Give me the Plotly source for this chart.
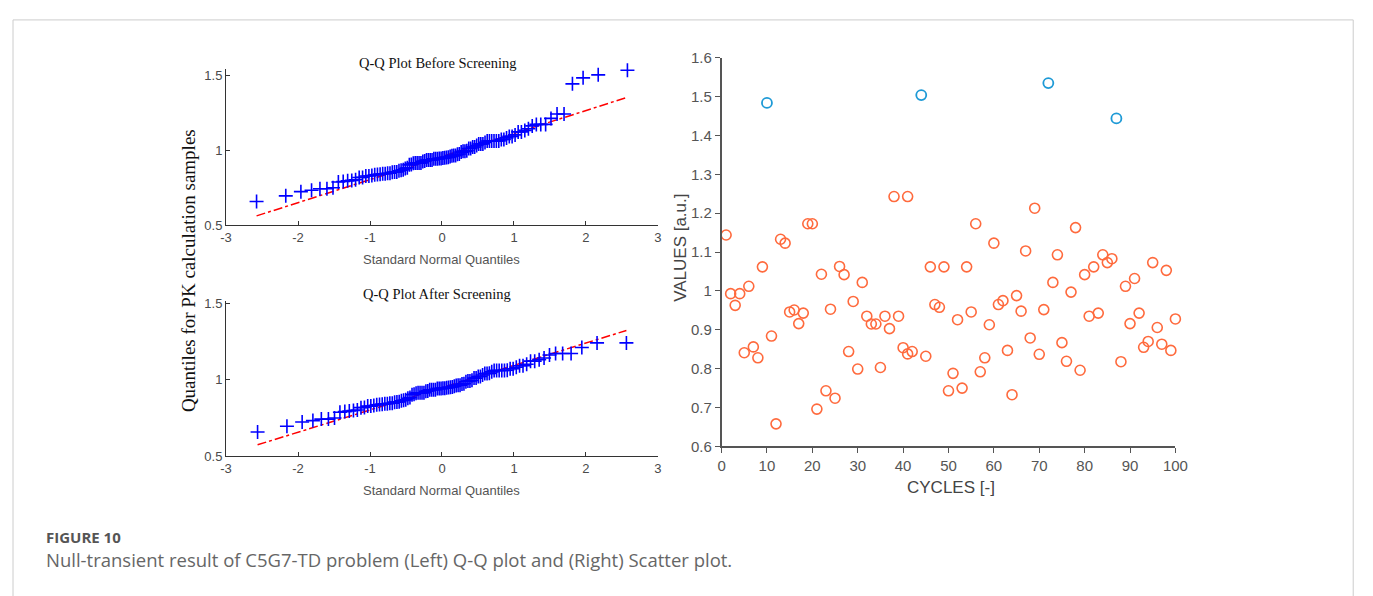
import numpy as np
import plotly.graph_objects as go
from statistics import NormalDist

# the page keeps the browser's default 8px body margin: figure pixel = page pixel - 8
OFF = 8
W, H = 1373, 596

# ---- data (cycles vs values) ----
cycles_normal = [1, 2, 3, 4, 5, 6, 7, 8, 9,
                 11, 12, 13, 14, 15, 16, 17, 18, 19, 20,
                 21, 22, 23, 24, 25, 26, 27, 28, 29, 30,
                 31, 32, 33, 34, 35, 36, 37, 38, 39, 40,
                 41, 41, 42, 45, 46, 47, 48, 49, 50,
                 51, 52, 53, 54, 55, 56, 57, 58, 59, 60,
                 61, 62, 63, 64, 65, 66, 67, 68, 69, 70,
                 71, 73, 74, 75, 76, 77, 78, 79, 80,
                 81, 82, 83, 84, 85, 86, 88, 89, 90,
                 91, 92, 93, 94, 95, 96, 97, 98, 99, 100]
values_normal = [1.144, 0.993, 0.963, 0.993, 0.841, 1.012, 0.856, 0.828, 1.062,
                 0.884, 0.658, 1.133, 1.123, 0.946, 0.951, 0.916, 0.943, 1.173, 1.173,
                 0.696, 1.043, 0.743, 0.953, 0.724, 1.063, 1.042, 0.844, 0.973, 0.799,
                 1.022, 0.935, 0.915, 0.915, 0.803, 0.935, 0.903, 1.243, 0.935, 0.854,
                 1.243, 0.838, 0.844, 0.832, 1.062, 0.965, 0.958, 1.062, 0.743,
                 0.788, 0.926, 0.750, 1.062, 0.946, 1.173, 0.792, 0.828, 0.913, 1.123,
                 0.965, 0.975, 0.847, 0.733, 0.988, 0.948, 1.103, 0.879, 1.213, 0.837,
                 0.952, 1.022, 1.093, 0.867, 0.819, 0.997, 1.163, 0.796, 1.042,
                 0.935, 1.062, 0.943, 1.093, 1.073, 1.083, 0.818, 1.012, 0.916,
                 1.032, 0.943, 0.855, 0.870, 1.073, 0.906, 0.863, 1.053, 0.847, 0.928]
cycles_outlier = [10, 44, 72, 87]
values_outlier = [1.484, 1.504, 1.535, 1.444]

qq_xticks = [-3, -2, -1, 0, 1, 2, 3]
qq_xticktext = ["-3", "-2", "-1", "0", "1", "2", "3"]
qq_yticks = [0.5, 1, 1.5]
qq_yticktext = ["0.5", "1", "1.5"]
sc_xticks = [0, 10, 20, 30, 40, 50, 60, 70, 80, 90, 100]
sc_yticks = [0.6, 0.7, 0.8, 0.9, 1.0, 1.1, 1.2, 1.3, 1.4, 1.5, 1.6]
sc_yticktext = ["0.6", "0.7", "0.8", "0.9", "1", "1.1", "1.2", "1.3", "1.4", "1.5", "1.6"]

title_before = "Q-Q Plot Before Screening"
title_after = "Q-Q Plot After Screening"
qq_xlabel = "Standard Normal Quantiles"
qq_ylabel = "Quantiles for PK calculation samples"
sc_xlabel = "CYCLES [-]"
sc_ylabel = "VALUES [a.u.]"
fig_label = "FIGURE 10"
caption = "Null-transient result of C5G7-TD problem (Left) Q-Q plot and (Right) Scatter plot."


def qq(data):
    s = np.sort(np.asarray(data, dtype=float))
    n = len(s)
    nd = NormalDist()
    q = np.array([nd.inv_cdf((i - 0.5) / n) for i in range(1, n + 1)])
    q1, q3 = np.percentile(s, [25, 75], method="hazen")
    z1, z3 = nd.inv_cdf(0.25), nd.inv_cdf(0.75)
    slope = (q3 - q1) / (z3 - z1)
    icpt = q1 - slope * z1
    lx = [q[0], q[-1]]
    ly = [icpt + slope * x for x in lx]
    return q, s, lx, ly


def px(x):
    return (x - OFF) / W


def py(y):
    return 1 - (y - OFF) / H


before_q, before_s, before_lx, before_ly = qq(values_normal + values_outlier)
after_q, after_s, after_lx, after_ly = qq(values_normal)

fig = go.Figure()

blue_plus = dict(symbol="cross-thin", size=10, color="#0000FF",
                 line=dict(color="#0000FF", width=1.6))

for q, s, lx, ly, xa, ya in [(before_q, before_s, before_lx, before_ly, "x", "y"),
                             (after_q, after_s, after_lx, after_ly, "x2", "y2")]:
    fig.add_trace(go.Scatter(x=lx, y=ly, mode="lines", xaxis=xa, yaxis=ya,
                             line=dict(color="#FF0000", width=1.5, dash="dashdot"),
                             showlegend=False, hoverinfo="skip"))
    fig.add_trace(go.Scatter(x=q, y=s, mode="markers", xaxis=xa, yaxis=ya,
                             marker=blue_plus, showlegend=False, cliponaxis=False))

fig.add_trace(go.Scatter(x=cycles_normal, y=values_normal, mode="markers",
                         xaxis="x3", yaxis="y3", showlegend=False, cliponaxis=False,
                         marker=dict(symbol="circle-open", size=10, color="#FF6A3D",
                                     line=dict(color="#FF6A3D", width=1.6))))
fig.add_trace(go.Scatter(x=cycles_outlier, y=values_outlier, mode="markers",
                         xaxis="x3", yaxis="y3", showlegend=False, cliponaxis=False,
                         marker=dict(symbol="circle-open", size=10, color="#1E9AD6",
                                     line=dict(color="#1E9AD6", width=1.8))))

qq_font = dict(family="Liberation Sans, Arial", size=13, color="#4a4a4a")
qq_ax = dict(showgrid=False, zeroline=False, showline=True, linecolor="#333333",
             linewidth=1, ticks="inside", ticklen=4, tickcolor="#333333",
             tickfont=qq_font, mirror=False)
sc_font = dict(family="Liberation Sans, Arial", size=15, color="#555555")
sc_ax = dict(showgrid=False, zeroline=False, showline=True, linecolor="#555555",
             linewidth=1.5, ticks="outside", ticklen=5, tickcolor="#555555",
             tickfont=sc_font)

x_dom_qq = [px(223), px(661)]
fig.update_layout(
    width=W, height=H,
    margin=dict(l=0, r=0, t=0, b=0),
    paper_bgcolor="white", plot_bgcolor="white",
    xaxis=dict(domain=x_dom_qq, range=[-3, 3], tickvals=qq_xticks, ticktext=qq_xticktext,
               anchor="y", **qq_ax),
    yaxis=dict(domain=[py(222.3), py(62)], range=[0.5, 1.54], tickvals=qq_yticks,
               ticktext=qq_yticktext, anchor="x", **qq_ax),
    xaxis2=dict(domain=x_dom_qq, range=[-3, 3], tickvals=qq_xticks, ticktext=qq_xticktext,
                anchor="y2", **qq_ax),
    yaxis2=dict(domain=[py(460), py(300)], range=[0.5, 1.52], tickvals=qq_yticks,
                ticktext=qq_yticktext, anchor="x2", **qq_ax),
    xaxis3=dict(domain=[px(725.5), px(1185.7)], range=[0, 100], tickvals=sc_xticks,
                anchor="y3", **sc_ax),
    yaxis3=dict(domain=[py(450), py(50)], range=[0.6, 1.6], tickvals=sc_yticks,
                ticktext=sc_yticktext, anchor="x3", **sc_ax),
)

serif = "Liberation Serif, Times New Roman, serif"
sans = "Liberation Sans, Arial, sans-serif"
ann = [
    dict(text=title_before, x=px(437), y=py(55), font=dict(family=serif, size=14.5, color="#111")),
    dict(text=title_after, x=px(437), y=py(293), font=dict(family=serif, size=14.5, color="#111")),
    dict(text=qq_xlabel, x=px(442), y=py(258), font=dict(family=sans, size=13, color="#555")),
    dict(text=qq_xlabel, x=px(442), y=py(495), font=dict(family=sans, size=13, color="#555")),
    dict(text=qq_ylabel, x=px(185), y=py(269), textangle=-90,
         font=dict(family=serif, size=19, color="#111")),
    dict(text=sc_xlabel, x=px(958), y=py(492), font=dict(family=sans, size=17, color="#444")),
    dict(text=sc_ylabel, x=px(684), y=py(246), textangle=-90,
         font=dict(family=sans, size=17, color="#444")),
]
for a in ann:
    a.update(xref="paper", yref="paper", showarrow=False, xanchor="center", yanchor="middle")
    fig.add_annotation(**a)

cap_font = "Open Sans, Noto Sans, sans-serif"
fig.add_annotation(text="<b>" + fig_label + "</b>", x=px(38), y=py(543), xref="paper",
                   yref="paper", showarrow=False, xanchor="left", yanchor="middle",
                   font=dict(family=cap_font, size=15, color="#555"))
fig.add_annotation(text=caption, x=px(38), y=py(566), xref="paper", yref="paper",
                   showarrow=False, xanchor="left", yanchor="middle",
                   font=dict(family=cap_font, size=18.5, color="#666"))

fig.add_shape(type="rect", xref="paper", yref="paper", x0=px(7), x1=px(1366),
              y0=-0.05, y1=py(11), line=dict(color="#cccccc", width=1), layer="below")

fig.write_html("out.html", config={"displayModeBar": False})
